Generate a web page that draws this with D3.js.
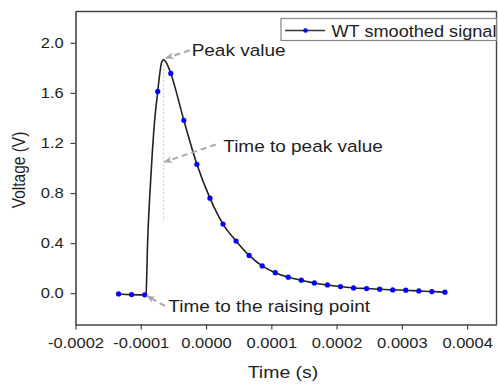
<!DOCTYPE html>
<html>
<head>
<meta charset="utf-8">
<script src="https://cdnjs.cloudflare.com/ajax/libs/d3/7.8.5/d3.min.js"></script>
<style>
body { margin: 0; background: #fff; }
svg text { font-family: "Liberation Sans", Arial, sans-serif; fill: #1e1e1e; }
</style>
</head>
<body>
<div id="chart"></div>
<script>
// sampled markers (s, V)
var marker_t = [-0.000134, -0.000114, -0.000094, -0.000074, -0.000054, -0.000034, -0.000014,
	0.000006, 0.000026, 0.000046, 0.000066, 0.000086, 0.000106, 0.000126, 0.000146, 0.000166,
	0.000186, 0.000206, 0.000226, 0.000246, 0.000266, 0.000286, 0.000306, 0.000326, 0.000346, 0.000366];
var marker_v = [-0.006, -0.011, -0.013, 1.612, 1.755, 1.381, 1.030,
	0.759, 0.552, 0.417, 0.302, 0.218, 0.164, 0.128, 0.104, 0.082,
	0.066, 0.053, 0.042, 0.037, 0.032, 0.026, 0.024, 0.018, 0.013, 0.008];

// extra line points read around the rise and the peak
var line_extra_t = [-0.0000920, -0.0000894, -0.0000842, -0.0000791, -0.0000705, -0.0000680, -0.0000650, -0.0000612];
var line_extra_v = [-0.005, 0.425, 0.959, 1.357, 1.770, 1.845, 1.867, 1.845];

var x_ticks = [-0.0002, -0.0001, 0.0000, 0.0001, 0.0002, 0.0003, 0.0004];
var x_minor = [-0.00015, -0.00005, 0.00005, 0.00015, 0.00025, 0.00035];
var y_ticks = [0.0, 0.4, 0.8, 1.2, 1.6, 2.0];
var y_minor = [-0.2, 0.2, 0.6, 1.0, 1.4, 1.8, 2.2];
var x_domain = [-0.0002, 0.000445];
var y_domain = [-0.25, 2.25];

var series_name = "WT smoothed signal";
var x_title = "Time (s)";
var y_title = "Voltage (V)";

// text anchor and arrow in data units
var annotations = [
	{text: "Peak value", tx: -0.0000220, tv: 1.895, fx: -0.0000250, fv: 1.940, ax: -0.0000613, av: 1.878},
	{text: "Time to peak value", tx: 0.0000264, tv: 1.130, fx: 0.0000150, fv: 1.188, ax: -0.0000636, av: 1.048},
	{text: "Time to the raising point", tx: -0.0000578, tv: -0.148, fx: -0.0000630, fv: -0.102, ax: -0.0000905, av: -0.022}
];
var peak_t = -0.0000650;
var peak_drop = [1.860, 0.577];

var width = 498, height = 386;
var margin = {top: 11.5, right: 1.5, bottom: 61.5, left: 75.5};
var stretch = 1.18;

var x_scale = d3.scaleLinear().domain(x_domain).range([margin.left, width - margin.right]);
var y_scale = d3.scaleLinear().domain(y_domain).range([height - margin.bottom, margin.top]);

var loc = d3.formatLocale({decimal: ".", thousands: ",", grouping: [3], currency: ["", ""], minus: "-"});

var svg = d3.select("#chart").append("svg")
	.attr("width", width)
	.attr("height", height);

var defs = svg.append("defs");
defs.append("marker")
	.attr("id", "arrow")
	.attr("viewBox", "0 0 10 8")
	.attr("refX", 9)
	.attr("refY", 4)
	.attr("markerWidth", 9)
	.attr("markerHeight", 7)
	.attr("markerUnits", "userSpaceOnUse")
	.attr("orient", "auto")
	.append("path")
	.attr("d", "M0,0 L10,4 L0,8 L3,4 Z")
	.attr("fill", "#a8a8a8");

// frame top and right
svg.append("line")
	.attr("x1", margin.left).attr("x2", width - margin.right)
	.attr("y1", margin.top).attr("y2", margin.top)
	.attr("stroke", "#444").attr("stroke-width", 1.6);
svg.append("line")
	.attr("x1", width - margin.right).attr("x2", width - margin.right)
	.attr("y1", margin.top).attr("y2", height - margin.bottom)
	.attr("stroke", "#444").attr("stroke-width", 1.4);

// axes
var x_axis = d3.axisBottom(x_scale).tickValues(x_ticks).tickSize(5).tickPadding(9)
	.tickSizeOuter(0).tickFormat(loc.format(".4f"));
var x_axis_minor = d3.axisBottom(x_scale).tickValues(x_minor).tickSize(3).tickSizeOuter(0).tickFormat("");
var y_axis = d3.axisLeft(y_scale).tickValues(y_ticks).tickSize(5).tickPadding(5)
	.tickSizeOuter(0).tickFormat(d3.format(".1f"));
var y_axis_minor = d3.axisLeft(y_scale).tickValues(y_minor).tickSize(3).tickSizeOuter(0).tickFormat("");

var gx = svg.append("g").attr("transform", "translate(0," + (height - margin.bottom) + ")");
gx.call(x_axis_minor);
gx.call(x_axis);
var gy = svg.append("g").attr("transform", "translate(" + margin.left + ",0)");
gy.call(y_axis_minor);
gy.call(y_axis);

svg.selectAll(".domain").attr("stroke", "#444").attr("stroke-width", 1.6);
svg.selectAll(".tick line").attr("stroke", "#444").attr("stroke-width", 1.2);
gx.selectAll(".tick text")
	.attr("font-size", "14px")
	.attr("fill", "#1e1e1e")
	.attr("transform", "scale(" + stretch + ",1)");
gy.selectAll(".tick text")
	.attr("font-size", "14px")
	.attr("fill", "#1e1e1e")
	.attr("transform", "scale(" + stretch + ",1)");

// axis titles
svg.append("text")
	.attr("transform", "translate(" + (margin.left + (width - margin.right - margin.left) / 2 - 3) + ",378) scale(" + stretch + ",1)")
	.attr("text-anchor", "middle")
	.attr("font-size", "16.5px")
	.text(x_title);
svg.append("text")
	.attr("transform", "translate(25," + (margin.top + (height - margin.bottom - margin.top) / 2 + 2) + ") scale(" + stretch + ",1) rotate(-90)")
	.attr("text-anchor", "middle")
	.attr("font-size", "15.5px")
	.text(y_title);

// dotted drop line from the peak
svg.append("line")
	.attr("x1", x_scale(peak_t)).attr("x2", x_scale(peak_t))
	.attr("y1", y_scale(peak_drop[0])).attr("y2", y_scale(peak_drop[1]))
	.attr("stroke", "#c4c4c4").attr("stroke-width", 1)
	.attr("stroke-dasharray", "2,2");

// signal line
var line_points = [];
for(var i = 0; i < marker_t.length; i++) {
	line_points.push([marker_t[i], marker_v[i]]);
}
for(var j = 0; j < line_extra_t.length; j++) {
	line_points.push([line_extra_t[j], line_extra_v[j]]);
}
line_points.sort(function(a, b) { return a[0] - b[0]; });

var line = d3.line()
	.x(function(d) { return x_scale(d[0]); })
	.y(function(d) { return y_scale(d[1]); })
	.curve(d3.curveMonotoneX);

svg.append("path")
	.datum(line_points)
	.attr("d", line)
	.attr("fill", "none")
	.attr("stroke", "#222")
	.attr("stroke-width", 1.6);

svg.selectAll("circle.marker")
	.data(marker_t)
	.enter()
	.append("circle")
	.attr("class", "marker")
	.attr("cx", function(d) { return x_scale(d); })
	.attr("cy", function(d, i) { return y_scale(marker_v[i]); })
	.attr("r", 2.6)
	.attr("fill", "#0000ff");

// annotations
var ann = svg.append("g").attr("class", "annotations");
ann.selectAll("line")
	.data(annotations)
	.enter()
	.append("line")
	.attr("x1", function(d) { return x_scale(d.fx); })
	.attr("y1", function(d) { return y_scale(d.fv); })
	.attr("x2", function(d) { return x_scale(d.ax); })
	.attr("y2", function(d) { return y_scale(d.av); })
	.attr("stroke", "#a8a8a8")
	.attr("stroke-width", 2)
	.attr("stroke-dasharray", "6,4")
	.attr("marker-end", "url(#arrow)");
ann.selectAll("text")
	.data(annotations)
	.enter()
	.append("text")
	.attr("transform", function(d) {
		return "translate(" + x_scale(d.tx) + "," + y_scale(d.tv) + ") scale(1.15,1)";
	})
	.attr("font-size", "16.5px")
	.text(function(d) { return d.text; });

// legend
var legend = svg.append("g").attr("transform", "translate(281,18.5)");
legend.append("rect")
	.attr("width", width - margin.right - 281)
	.attr("height", 22)
	.attr("fill", "#fff")
	.attr("stroke", "#888")
	.attr("stroke-width", 1.2);
legend.append("line")
	.attr("x1", 4).attr("x2", 44)
	.attr("y1", 12).attr("y2", 12)
	.attr("stroke", "#333").attr("stroke-width", 1.3);
legend.append("circle")
	.attr("cx", 24.5).attr("cy", 12).attr("r", 2.3)
	.attr("fill", "#0000ff");
legend.append("text")
	.attr("transform", "translate(50.5,18) scale(1.1,1)")
	.attr("font-size", "16.5px")
	.text(series_name);
</script>
</body>
</html>
